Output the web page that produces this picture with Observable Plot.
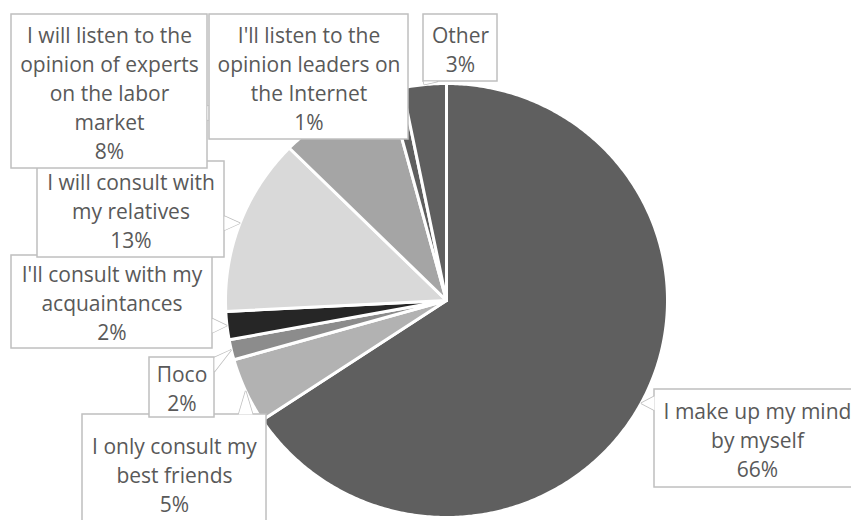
<!DOCTYPE html>
<html>
<head>
<meta charset="utf-8">
<script src="https://cdn.jsdelivr.net/npm/d3@7"></script>
<script src="https://cdn.jsdelivr.net/npm/@observablehq/plot@0.6"></script>
<style>
  html, body { margin: 0; padding: 0; background: #fff; overflow: hidden; }
  #chart { width: 851px; height: 520px; }
</style>
</head>
<body>
<div id="chart"></div>
<script>
// ---- data ----
const categories = [
  "I make up my mind\nby myself",
  "I only consult my\nbest friends",
  "Посо",
  "I'll consult with my\nacquaintances",
  "I will consult with\nmy relatives",
  "I will listen to the\nopinion of experts\non the labor\nmarket",
  "I'll listen to the\nopinion leaders on\nthe Internet",
  "Other"
];
const values = [65.7, 4.9, 1.5, 2.1, 13.2, 8.4, 1.0, 3.2];
const sliceColors = ["#5f5f5f", "#b2b2b2", "#8c8c8c", "#262626", "#d9d9d9", "#a5a5a5", "#5f5f5f", "#5f5f5f"];

// ---- layout ----
const W = 851, H = 520;
const cx = 446, cy = 300, rx = 221, ry = 217;
// label boxes [x1, y1, x2, y2] in pixels
const labelBoxes = [
  [654, 389, 860, 487],
  [82, 414, 266, 532],
  [149, 357, 214, 417],
  [11, 255, 212, 348],
  [37, 161, 224, 257],
  [11, 14, 207, 168],
  [209, 14, 408, 139],
  [423, 14, 497, 81]
];
// drawing order of the labels
const labelOrder = [0, 1, 2, 3, 4, 5, 6, 7];

const arcs = d3.pie().sort(null).startAngle(0).endAngle(2 * Math.PI)(values);
const px = (a, k = 1) => cx + rx * k * Math.sin(a);
const py = (a, k = 1) => cy - ry * k * Math.cos(a);

// slice polygons
const slicePts = [];
arcs.forEach((arc, i) => {
  const n = Math.max(2, Math.ceil((arc.endAngle - arc.startAngle) / 0.01));
  slicePts.push({key: i, x: cx, y: cy, color: sliceColors[i]});
  for (let j = 0; j <= n; j++) {
    const a = arc.startAngle + (arc.endAngle - arc.startAngle) * j / n;
    slicePts.push({key: i, x: px(a), y: py(a), color: sliceColors[i]});
  }
  slicePts.push({key: i, x: cx, y: cy, color: sliceColors[i]});
});

// labels
const labels = arcs.map((arc, i) => {
  const [x1, y1, x2, y2] = labelBoxes[i];
  const mid = (arc.startAngle + arc.endAngle) / 2;
  return {
    i, x1, y1, x2, y2,
    tx: (x1 + x2) / 2, ty: (y1 + y2) / 2,
    text: categories[i] + "\n" + Math.round(values[i]) + "%",
    tipX: px(mid), tipY: py(mid)
  };
});

function pointer(l) {
  const {x1, y1, x2, y2, tipX, tipY} = l;
  if (tipX >= x1 && tipX <= x2 && tipY >= y1 && tipY <= y2) return null;
  const dx = tipX < x1 ? x1 - tipX : tipX > x2 ? tipX - x2 : 0;
  const dy = tipY < y1 ? y1 - tipY : tipY > y2 ? tipY - y2 : 0;
  const w = 7;
  const clamp = (v, a, b) => Math.max(a, Math.min(b, v));
  let p1, p2;
  if (dx >= dy) {
    const ex = tipX < x1 ? x1 : x2;
    const c = clamp(tipY, y1 + w, y2 - w);
    p1 = [ex, c - w]; p2 = [ex, c + w];
  } else {
    const ey = tipY < y1 ? y1 : y2;
    const c = clamp(tipX, x1 + w, x2 - w);
    p1 = [c - w, ey]; p2 = [c + w, ey];
  }
  return [
    {x: p1[0], y: p1[1]}, {x: tipX, y: tipY}, {x: p2[0], y: p2[1]}
  ];
}

const labelMarks = labelOrder.flatMap(i => {
  const l = labels[i];
  const tri = pointer(l);
  const ms = [];
  if (tri) {
    ms.push(Plot.line(tri, {x: "x", y: "y", fill: "white", stroke: "#bfbfbf", strokeWidth: 1.5, strokeLinejoin: "miter"}));
  }
  ms.push(Plot.rect([l], {x1: "x1", x2: "x2", y1: "y1", y2: "y2", fill: "white", stroke: "#bfbfbf", strokeWidth: 1.5}));
  if (tri) {
    ms.push(Plot.line(tri, {x: "x", y: "y", fill: "white", stroke: "none"}));
  }
  ms.push(Plot.text([l], {
    x: "tx", y: "ty", text: "text",
    fontSize: 21, fontFamily: "Open Sans", fill: "#595959",
    textAnchor: "middle", lineAnchor: "middle", lineHeight: 1.38
  }));
  return ms;
});

const chart = Plot.plot({
  width: W, height: H,
  margin: 0,
  x: {domain: [0, W], range: [0, W], axis: null},
  y: {domain: [0, H], range: [0, H], axis: null},
  color: {type: "identity"},
  style: {background: "white", overflow: "hidden"},
  marks: [
    Plot.line(slicePts, {
      x: "x", y: "y", z: "key", fill: "color",
      stroke: "white", strokeWidth: 3, strokeLinejoin: "round"
    }),
    ...labelMarks
  ]
});
document.getElementById("chart").appendChild(chart);
</script>
</body>
</html>
